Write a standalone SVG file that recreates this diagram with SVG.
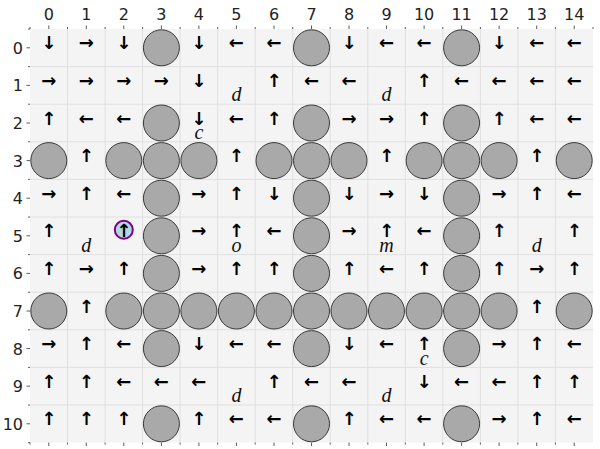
<svg xmlns="http://www.w3.org/2000/svg" width="600" height="449" viewBox="0 0 600 449">
<style>
.bg{fill:#f4f4f4}
.gl{stroke:#e0e0e0;stroke-width:1;fill:none}
.tk{stroke:#333;stroke-width:0.8;fill:none}
.tl{font-family:"DejaVu Sans",sans-serif;font-size:16px;fill:#222}
.w{fill:#a9a9a9;stroke:#3a3a3a;stroke-width:1}
.a{font-family:"DejaVu Sans",sans-serif;font-size:18px;font-weight:bold;fill:#000;text-anchor:middle}
.lb{font-family:"Liberation Serif",serif;font-style:italic;font-size:20px;fill:#111;text-anchor:middle}
</style>
<rect width="600" height="449" fill="#fff"/>
<g id="grid">
<rect class="bg" x="30" y="29" width="563" height="413.6"/>
<path class="gl" d="M67.5 29V442.6M105.1 29V442.6M142.6 29V442.6M180.1 29V442.6M217.7 29V442.6M255.2 29V442.6M292.7 29V442.6M330.2 29V442.6M367.8 29V442.6M405.3 29V442.6M442.8 29V442.6M480.4 29V442.6M517.9 29V442.6M555.4 29V442.6M30 66.6H593M30 104.2H593M30 141.8H593M30 179.4H593M30 217H593M30 254.6H593M30 292.2H593M30 329.8H593M30 367.4H593M30 405H593"/>
</g>
<g id="axes">
<path class="tk" d="M48.8 29V25.5M86.3 29V25.5M123.8 29V25.5M161.4 29V25.5M198.9 29V25.5M236.4 29V25.5M274 29V25.5M311.5 29V25.5M349 29V25.5M386.5 29V25.5M424.1 29V25.5M461.6 29V25.5M499.1 29V25.5M536.7 29V25.5M574.2 29V25.5"/>
<path class="tk" d="M48.8 442.6V446M86.3 442.6V446M123.8 442.6V446M161.4 442.6V446M198.9 442.6V446M236.4 442.6V446M274 442.6V446M311.5 442.6V446M349 442.6V446M386.5 442.6V446M424.1 442.6V446M461.6 442.6V446M499.1 442.6V446M536.7 442.6V446M574.2 442.6V446"/>
<path class="tk" d="M30 47.8H26.5M30 85.4H26.5M30 123H26.5M30 160.6H26.5M30 198.2H26.5M30 235.8H26.5M30 273.4H26.5M30 311H26.5M30 348.6H26.5M30 386.2H26.5M30 423.8H26.5"/>
<path class="tk" stroke-width="0.6" d="M30 29V27M67.5 29V27M105.1 29V27M142.6 29V27M180.1 29V27M217.7 29V27M255.2 29V27M292.7 29V27M330.2 29V27M367.8 29V27M405.3 29V27M442.8 29V27M480.4 29V27M517.9 29V27M555.4 29V27M593 29V27M30 29H28M30 66.6H28M30 104.2H28M30 141.8H28M30 179.4H28M30 217H28M30 254.6H28M30 292.2H28M30 329.8H28M30 367.4H28M30 405H28M30 442.6H28M30 442.6V444.6M67.5 442.6V444.6M105.1 442.6V444.6M142.6 442.6V444.6M180.1 442.6V444.6M217.7 442.6V444.6M255.2 442.6V444.6M292.7 442.6V444.6M330.2 442.6V444.6M367.8 442.6V444.6M405.3 442.6V444.6M442.8 442.6V444.6M480.4 442.6V444.6M517.9 442.6V444.6M555.4 442.6V444.6"/>
<g class="tl" text-anchor="middle">
<text x="48.8" y="19.5">0</text><text x="86.3" y="19.5">1</text><text x="123.8" y="19.5">2</text><text x="161.4" y="19.5">3</text><text x="198.9" y="19.5">4</text><text x="236.4" y="19.5">5</text><text x="274" y="19.5">6</text><text x="311.5" y="19.5">7</text><text x="349" y="19.5">8</text><text x="386.5" y="19.5">9</text><text x="424.1" y="19.5">10</text><text x="461.6" y="19.5">11</text><text x="499.1" y="19.5">12</text><text x="536.7" y="19.5">13</text><text x="574.2" y="19.5">14</text>
</g>
<g class="tl" text-anchor="end">
<text x="23" y="53.8">0</text><text x="23" y="91.4">1</text><text x="23" y="129">2</text><text x="23" y="166.6">3</text><text x="23" y="204.2">4</text><text x="23" y="241.8">5</text><text x="23" y="279.4">6</text><text x="23" y="317">7</text><text x="23" y="354.6">8</text><text x="23" y="392.2">9</text><text x="23" y="429.8">10</text>
</g>
</g>
<g id="walls">
<circle class="w" cx="161.4" cy="47.8" r="18"/><circle class="w" cx="311.5" cy="47.8" r="18"/><circle class="w" cx="461.6" cy="47.8" r="18"/>
<circle class="w" cx="161.4" cy="123" r="18"/><circle class="w" cx="311.5" cy="123" r="18"/><circle class="w" cx="461.6" cy="123" r="18"/>
<circle class="w" cx="48.8" cy="160.6" r="18"/><circle class="w" cx="123.8" cy="160.6" r="18"/><circle class="w" cx="161.4" cy="160.6" r="18"/><circle class="w" cx="198.9" cy="160.6" r="18"/><circle class="w" cx="274" cy="160.6" r="18"/><circle class="w" cx="311.5" cy="160.6" r="18"/><circle class="w" cx="349" cy="160.6" r="18"/><circle class="w" cx="424.1" cy="160.6" r="18"/><circle class="w" cx="461.6" cy="160.6" r="18"/><circle class="w" cx="499.1" cy="160.6" r="18"/><circle class="w" cx="574.2" cy="160.6" r="18"/>
<circle class="w" cx="161.4" cy="198.2" r="18"/><circle class="w" cx="311.5" cy="198.2" r="18"/><circle class="w" cx="461.6" cy="198.2" r="18"/>
<circle class="w" cx="161.4" cy="235.8" r="18"/><circle class="w" cx="311.5" cy="235.8" r="18"/><circle class="w" cx="461.6" cy="235.8" r="18"/>
<circle class="w" cx="161.4" cy="273.4" r="18"/><circle class="w" cx="311.5" cy="273.4" r="18"/><circle class="w" cx="461.6" cy="273.4" r="18"/>
<circle class="w" cx="48.8" cy="311" r="18"/><circle class="w" cx="123.8" cy="311" r="18"/><circle class="w" cx="161.4" cy="311" r="18"/><circle class="w" cx="198.9" cy="311" r="18"/><circle class="w" cx="236.4" cy="311" r="18"/><circle class="w" cx="274" cy="311" r="18"/><circle class="w" cx="311.5" cy="311" r="18"/><circle class="w" cx="349" cy="311" r="18"/><circle class="w" cx="386.5" cy="311" r="18"/><circle class="w" cx="424.1" cy="311" r="18"/><circle class="w" cx="461.6" cy="311" r="18"/><circle class="w" cx="499.1" cy="311" r="18"/><circle class="w" cx="574.2" cy="311" r="18"/>
<circle class="w" cx="161.4" cy="348.6" r="18"/><circle class="w" cx="311.5" cy="348.6" r="18"/><circle class="w" cx="461.6" cy="348.6" r="18"/>
<circle class="w" cx="161.4" cy="423.8" r="18"/><circle class="w" cx="311.5" cy="423.8" r="18"/><circle class="w" cx="461.6" cy="423.8" r="18"/>
</g>
<g id="agent">
<circle cx="123.8" cy="229.8" r="9" fill="#add8e6" stroke="#800080" stroke-width="2"/>
</g>
<g id="arrows" class="a" transform="translate(0,1.5)">
<text x="48.8" y="47.8">↓</text><text x="86.3" y="47.8">→</text><text x="123.8" y="47.8">↓</text><text x="198.9" y="47.8">↓</text><text x="236.4" y="47.8">←</text><text x="274" y="47.8">←</text><text x="349" y="47.8">↓</text><text x="386.5" y="47.8">←</text><text x="424.1" y="47.8">←</text><text x="499.1" y="47.8">↓</text><text x="536.7" y="47.8">←</text><text x="574.2" y="47.8">←</text>
<text x="48.8" y="85.4">→</text><text x="86.3" y="85.4">→</text><text x="123.8" y="85.4">→</text><text x="161.4" y="85.4">→</text><text x="198.9" y="85.4">↓</text><text x="274" y="85.4">↑</text><text x="311.5" y="85.4">←</text><text x="349" y="85.4">←</text><text x="424.1" y="85.4">↑</text><text x="461.6" y="85.4">←</text><text x="499.1" y="85.4">←</text><text x="536.7" y="85.4">←</text><text x="574.2" y="85.4">←</text>
<text x="48.8" y="123">↑</text><text x="86.3" y="123">←</text><text x="123.8" y="123">←</text><text x="198.9" y="123">↓</text><text x="236.4" y="123">←</text><text x="274" y="123">↑</text><text x="349" y="123">→</text><text x="386.5" y="123">→</text><text x="424.1" y="123">↑</text><text x="499.1" y="123">↑</text><text x="536.7" y="123">←</text><text x="574.2" y="123">←</text>
<text x="86.3" y="160.6">↑</text><text x="236.4" y="160.6">↑</text><text x="386.5" y="160.6">↑</text><text x="536.7" y="160.6">↑</text>
<text x="48.8" y="198.2">→</text><text x="86.3" y="198.2">↑</text><text x="123.8" y="198.2">←</text><text x="198.9" y="198.2">→</text><text x="236.4" y="198.2">↑</text><text x="274" y="198.2">↓</text><text x="349" y="198.2">↓</text><text x="386.5" y="198.2">→</text><text x="424.1" y="198.2">↓</text><text x="499.1" y="198.2">→</text><text x="536.7" y="198.2">↑</text><text x="574.2" y="198.2">←</text>
<text x="48.8" y="235.8">↑</text><text x="123.8" y="235.8">↑</text><text x="198.9" y="235.8">→</text><text x="236.4" y="235.8">↑</text><text x="274" y="235.8">←</text><text x="349" y="235.8">→</text><text x="386.5" y="235.8">↑</text><text x="424.1" y="235.8">←</text><text x="499.1" y="235.8">↑</text><text x="574.2" y="235.8">↑</text>
<text x="48.8" y="273.4">↑</text><text x="86.3" y="273.4">→</text><text x="123.8" y="273.4">↑</text><text x="198.9" y="273.4">→</text><text x="236.4" y="273.4">↑</text><text x="274" y="273.4">↑</text><text x="349" y="273.4">↑</text><text x="386.5" y="273.4">←</text><text x="424.1" y="273.4">↑</text><text x="499.1" y="273.4">↑</text><text x="536.7" y="273.4">→</text><text x="574.2" y="273.4">↑</text>
<text x="86.3" y="311">↑</text><text x="536.7" y="311">↑</text>
<text x="48.8" y="348.6">→</text><text x="86.3" y="348.6">↑</text><text x="123.8" y="348.6">←</text><text x="198.9" y="348.6">↓</text><text x="236.4" y="348.6">←</text><text x="274" y="348.6">←</text><text x="349" y="348.6">↓</text><text x="386.5" y="348.6">←</text><text x="424.1" y="348.6">↑</text><text x="499.1" y="348.6">→</text><text x="536.7" y="348.6">↑</text><text x="574.2" y="348.6">←</text>
<text x="48.8" y="386.2">↑</text><text x="86.3" y="386.2">↑</text><text x="123.8" y="386.2">←</text><text x="161.4" y="386.2">←</text><text x="198.9" y="386.2">←</text><text x="274" y="386.2">↑</text><text x="311.5" y="386.2">←</text><text x="349" y="386.2">←</text><text x="424.1" y="386.2">↓</text><text x="461.6" y="386.2">←</text><text x="499.1" y="386.2">←</text><text x="536.7" y="386.2">↑</text><text x="574.2" y="386.2">↑</text>
<text x="48.8" y="423.8">↑</text><text x="86.3" y="423.8">↑</text><text x="123.8" y="423.8">↑</text><text x="198.9" y="423.8">↑</text><text x="236.4" y="423.8">←</text><text x="274" y="423.8">←</text><text x="349" y="423.8">↑</text><text x="386.5" y="423.8">←</text><text x="424.1" y="423.8">←</text><text x="499.1" y="423.8">→</text><text x="536.7" y="423.8">↑</text><text x="574.2" y="423.8">←</text>
</g>
<g id="labels" class="lb" transform="translate(0,16)">
<text x="236.4" y="85.4">d</text><text x="386.5" y="85.4">d</text>
<text x="198.9" y="123">c</text>
<text x="86.3" y="235.8">d</text><text x="236.4" y="235.8">o</text><text x="386.5" y="235.8">m</text><text x="536.7" y="235.8">d</text>
<text x="424.1" y="348.6">c</text>
<text x="236.4" y="386.2">d</text><text x="386.5" y="386.2">d</text>
</g>
</svg>
